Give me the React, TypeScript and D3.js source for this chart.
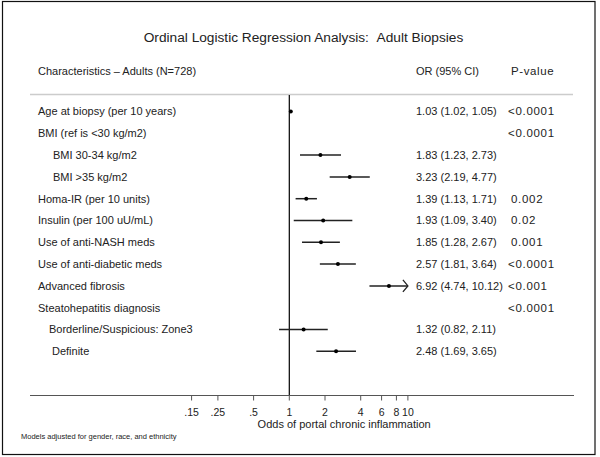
import React from "react";
import * as d3 from "d3";

const labels = [
  "Age at biopsy (per 10 years)",
  "BMI (ref is <30 kg/m2)",
  "BMI 30-34 kg/m2",
  "BMI >35 kg/m2",
  "Homa-IR (per 10 units)",
  "Insulin (per 100 uU/mL)",
  "Use of anti-NASH meds",
  "Use of anti-diabetic meds",
  "Advanced fibrosis",
  "Steatohepatitis diagnosis",
  "Borderline/Suspicious: Zone3",
  "Definite",
];
const indents = [0, 0, 1, 1, 0, 0, 0, 0, 0, 0, 2, 3];
const orValues: (number | null)[] = [1.03, null, 1.83, 3.23, 1.39, 1.93, 1.85, 2.57, 6.92, null, 1.32, 2.48];
const ciLow: (number | null)[] = [1.02, null, 1.23, 2.19, 1.13, 1.09, 1.28, 1.81, 4.74, null, 0.82, 1.69];
const ciHigh: (number | null)[] = [1.05, null, 2.73, 4.77, 1.71, 3.4, 2.67, 3.64, 10.12, null, 2.11, 3.65];
const ciText = [
  "1.03 (1.02, 1.05)", "", "1.83 (1.23, 2.73)", "3.23 (2.19, 4.77)", "1.39 (1.13, 1.71)",
  "1.93 (1.09, 3.40)", "1.85 (1.28, 2.67)", "2.57 (1.81, 3.64)", "6.92 (4.74, 10.12)", "",
  "1.32 (0.82, 2.11)", "2.48 (1.69, 3.65)",
];
const pValues = ["<0.0001", "<0.0001", "", "", "0.002", "0.02", "0.001", "<0.0001", "<0.001", "<0.0001", "", ""];
const tickValues = [0.15, 0.25, 0.5, 1, 2, 4, 6, 8, 10];
const tickLabels = [".15", ".25", ".5", "1", "2", "4", "6", "8", "10"];
const xMax = 10;

const W = 600;
const H = 457;
const FONT = "Liberation Sans, Arial, Helvetica, sans-serif";

export default function App() {
  const x = d3.scaleLog().domain([1, 10]).range([289.3, 407.9]);
  const y = d3.scaleLinear().domain([0, 11]).range([111.5, 351.3]);
  const axisY = 395.5;
  const indentX = [38, 53, 49, 52];
  const fs = 11;

  return (
    <div style={{ position: "fixed", left: 0, top: 0 }}>
      <svg width={W} height={H} style={{ display: "block" }} fontFamily={FONT}>
        <rect x={0} y={0} width={W} height={H} fill="#fff" />
        <rect x={2.5} y={1.5} width={592.5} height={453} fill="none" stroke="#111" strokeWidth={1.2} />
        <text x={303.5} y={42} textAnchor="middle" fontSize={13.7} fill="#222">
          Ordinal Logistic Regression Analysis:{"\u00a0\u00a0"}Adult Biopsies
        </text>
        <text x={38} y={75} fontSize={fs} fill="#222">Characteristics – Adults (N=728)</text>
        <text x={416} y={75} fontSize={fs} fill="#222">OR (95% CI)</text>
        <text x={511} y={75} fontSize={11.5} letterSpacing={0.6} fill="#222">P-value</text>
        <line x1={30} x2={573} y1={94.5} y2={94.5} stroke="#ccc" strokeWidth={1.5} />

        {/* reference line */}
        <line x1={x(1)} x2={x(1)} y1={95} y2={axisY} stroke="#000" strokeWidth={1.2} />

        {labels.map((l, i) => (
          <text key={"l" + i} x={indentX[indents[i]]} y={y(i) + 3.9} fontSize={fs} fill="#222">
            {l}
          </text>
        ))}
        {ciText.map((t, i) => (
          <text key={"c" + i} x={416} y={y(i) + 3.9} fontSize={fs} fill="#222">
            {t}
          </text>
        ))}
        {pValues.map((t, i) => (
          <text
            key={"p" + i}
            x={t.startsWith("<") ? 508 : 511}
            y={y(i) + 3.9}
            fontSize={11.5}
            letterSpacing={0.7}
            fill="#222"
          >
            {t}
          </text>
        ))}

        {orValues.map((v, i) => {
          if (v === null) return null;
          const lo = ciLow[i] as number;
          const hi = ciHigh[i] as number;
          const clipped = hi > xMax;
          const xe = x(Math.min(hi, xMax));
          const yy = y(i);
          return (
            <g key={"m" + i}>
              <line x1={x(lo)} x2={xe} y1={yy} y2={yy} stroke="#222" strokeWidth={1.5} />
              {clipped && (
                <path
                  d={`M${xe - 5},${yy - 6} L${xe},${yy} L${xe - 5},${yy + 6}`}
                  fill="none"
                  stroke="#222"
                  strokeWidth={1.3}
                />
              )}
              <circle cx={x(v)} cy={yy} r={2} fill="#000" />
            </g>
          );
        })}

        {/* axis */}
        <line x1={30} x2={574} y1={axisY} y2={axisY} stroke="#555" strokeWidth={1.2} />
        {tickValues.map((t, i) => (
          <g key={"t" + i}>
            <line x1={x(t)} x2={x(t)} y1={axisY} y2={axisY + 5} stroke="#555" strokeWidth={1} />
            <text x={x(t)} y={415.5} textAnchor="middle" fontSize={10.5} fill="#222">
              {tickLabels[i]}
            </text>
          </g>
        ))}
        <text x={x(2.9)} y={428} textAnchor="middle" fontSize={11} fill="#222">
          Odds of portal chronic inflammation
        </text>
        <text x={21} y={439} fontSize={7.5} fill="#222">Models adjusted for gender, race, and ethnicity</text>
      </svg>
    </div>
  );
}
